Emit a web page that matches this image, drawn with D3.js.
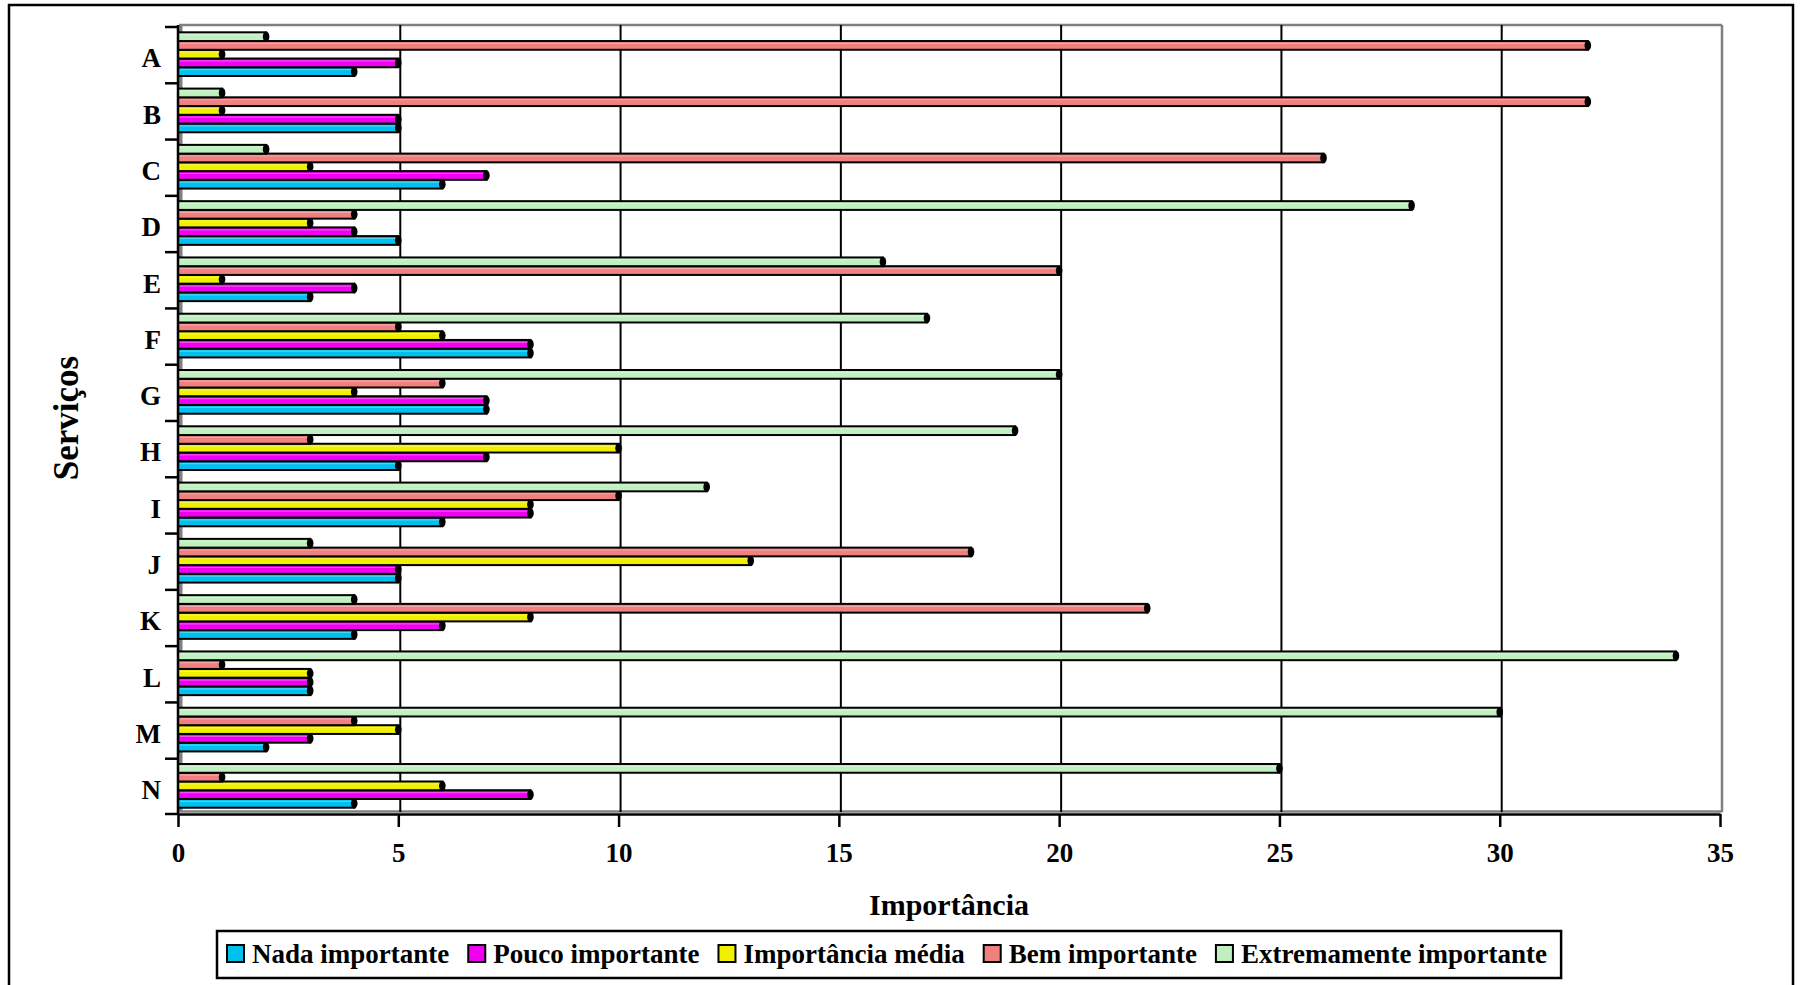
<!DOCTYPE html>
<html>
<head>
<meta charset="utf-8">
<script src="https://cdn.jsdelivr.net/npm/d3@7/dist/d3.min.js"></script>
<style>
  html, body { margin: 0; padding: 0; background: #fff; }
  svg text { font-family: "Liberation Serif", "Times New Roman", serif; font-weight: bold; fill: #000; }
</style>
</head>
<body>
<svg id="chart" width="1804" height="985"></svg>
<script>
// Services surveyed (top to bottom)
const categories = ["A","B","C","D","E","F","G","H","I","J","K","L","M","N"];

// Number of answers per importance level, one value per service
const nadaImportante        = [4, 5, 6, 5, 3, 8, 7, 5, 6, 5, 4, 3, 2, 4];
const poucoImportante       = [5, 5, 7, 4, 4, 8, 7, 7, 8, 5, 6, 3, 3, 8];
const importanciaMedia      = [1, 1, 3, 3, 1, 6, 4, 10, 8, 13, 8, 3, 5, 6];
const bemImportante         = [32, 32, 26, 4, 20, 5, 6, 3, 10, 18, 22, 1, 4, 1];
const extremamenteImportante = [2, 1, 2, 28, 16, 17, 20, 19, 12, 3, 4, 34, 30, 25];

const seriesNames = ["Nada importante", "Pouco importante", "Importância média", "Bem importante", "Extremamente importante"];
const seriesColors = ["#00c0f0", "#f000f0", "#f0f000", "#f08080", "#c0f0c0"];
const xTicks = [0, 5, 10, 15, 20, 25, 30, 35];

const seriesValues = [nadaImportante, poucoImportante, importanciaMedia, bemImportante, extremamenteImportante];
const series = seriesNames.map((name, i) => ({ name, color: seriesColors[i], values: seriesValues[i] }));

const svg = d3.select("#chart");

// Outer chart frame
svg.append("rect").attr("x", 9).attr("y", 5).attr("width", 1784).attr("height", 990)
  .attr("fill", "none").attr("stroke", "#000").attr("stroke-width", 2.5);

const x = d3.scaleLinear().domain([0, 35]).range([178, 1720]);
const y = d3.scaleBand().domain(categories).range([27, 815]);
// Within a service, the last series sits on top
const stackOrder = series.map(s => s.name).slice().reverse();
const ySub = d3.scaleBand().domain(stackOrder).range([5.3, 49]);

const plotTop = 25, plotBottom = 812, plotRight = 1722;

// Gray walls of the plot area
svg.append("rect").attr("x", 179).attr("y", plotTop).attr("width", 3.5).attr("height", plotBottom - plotTop)
  .attr("fill", "#808080");
svg.append("line").attr("x1", 179).attr("x2", plotRight).attr("y1", plotTop).attr("y2", plotTop)
  .attr("stroke", "#808080").attr("stroke-width", 2.5);
svg.append("line").attr("x1", plotRight).attr("x2", plotRight).attr("y1", plotTop).attr("y2", plotBottom)
  .attr("stroke", "#808080").attr("stroke-width", 2.5);
svg.append("line").attr("x1", 178).attr("x2", plotRight).attr("y1", plotBottom - 0.5).attr("y2", plotBottom - 0.5)
  .attr("stroke", "#808080").attr("stroke-width", 2.5);

// Vertical gridlines
svg.append("g").selectAll("line")
  .data(xTicks.filter(t => t > 0 && t < 35))
  .join("line")
  .attr("x1", d => x(d) + 2).attr("x2", d => x(d) + 2)
  .attr("y1", plotTop).attr("y2", plotBottom)
  .attr("stroke", "#000").attr("stroke-width", 2);

// Bars
const bh = ySub.bandwidth();
const rows = [];
categories.forEach((c, ci) => {
  series.forEach(s => rows.push({ cat: c, name: s.name, color: s.color, value: s.values[ci] }));
});
const barG = svg.append("g").selectAll("g").data(rows).join("g")
  .attr("transform", d => `translate(0,${y(d.cat) + ySub(d.name)})`);
barG.append("rect")
  .attr("x", x(0))
  .attr("y", 0)
  .attr("width", d => x(d.value) - x(0))
  .attr("height", bh)
  .attr("fill", d => d.color)
  .attr("stroke", "#000").attr("stroke-width", 2);
barG.append("line")
  .attr("x1", x(0) + 2).attr("x2", d => x(d.value) - 2)
  .attr("y1", 2.4).attr("y2", 2.4)
  .attr("stroke", "#fff").attr("stroke-opacity", 0.3).attr("stroke-width", 1.2);
barG.append("ellipse")
  .attr("cx", d => x(d.value)).attr("cy", bh / 2)
  .attr("rx", 3.3).attr("ry", bh / 2 + 0.8)
  .attr("fill", "#000");

// Category axis: line, boundary ticks, labels
svg.append("line").attr("x1", 178).attr("x2", 178).attr("y1", plotTop).attr("y2", 815)
  .attr("stroke", "#000").attr("stroke-width", 2.5);
const bounds = categories.map(c => y(c)).concat([y.range()[1] - 1]);
svg.append("g").selectAll("line").data(bounds).join("line")
  .attr("x1", 165).attr("x2", 178).attr("y1", d => d).attr("y2", d => d)
  .attr("stroke", "#000").attr("stroke-width", 2.5);
const yAxis = svg.append("g").attr("transform", "translate(178,2)")
  .call(d3.axisLeft(y).tickSize(0).tickPadding(17));
yAxis.select(".domain").remove();
yAxis.selectAll("text").attr("font-size", 27).attr("dy", "0.38em")
  .style("font-family", "'Liberation Serif', serif").style("font-weight", "bold");

// Value axis
const xAxis = svg.append("g").attr("transform", "translate(0,814)")
  .call(d3.axisBottom(x).tickValues(xTicks).tickSize(13).tickPadding(16).tickSizeOuter(0));
xAxis.select(".domain").attr("stroke-width", 2.5);
xAxis.selectAll(".tick line").attr("stroke-width", 2.5);
xAxis.selectAll("text").attr("font-size", 27)
  .style("font-family", "'Liberation Serif', serif").style("font-weight", "bold");

// Axis titles
svg.append("text").attr("x", 949).attr("y", 915).attr("text-anchor", "middle")
  .attr("font-size", 30).text("Importância");
svg.append("text").attr("transform", "translate(78,418) rotate(-90)").attr("text-anchor", "middle")
  .attr("font-size", 35).text("Serviços");

// Legend
const legend = svg.append("g");
const legendBox = legend.append("rect").attr("x", 217).attr("y", 931).attr("height", 47)
  .attr("fill", "#fff").attr("stroke", "#000").attr("stroke-width", 2.5);
let lx = 227;
series.forEach(s => {
  legend.append("rect").attr("x", lx).attr("y", 945).attr("width", 17).attr("height", 17)
    .attr("fill", s.color).attr("stroke", "#000").attr("stroke-width", 2);
  const t = legend.append("text").attr("x", lx + 25).attr("y", 963).attr("font-size", 27).text(s.name);
  lx += 25 + t.node().getComputedTextLength() + 19;
});
legendBox.attr("width", lx - 19 + 14 - 217);
</script>
</body>
</html>
